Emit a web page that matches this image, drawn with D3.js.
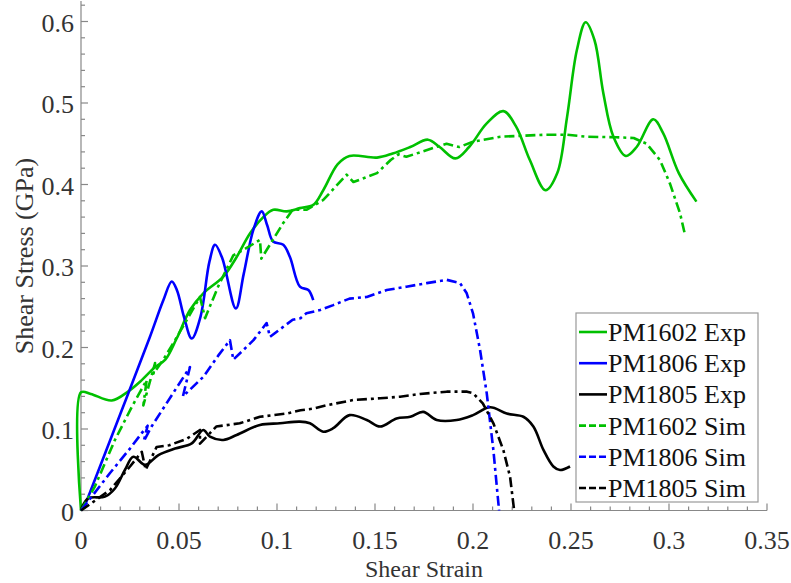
<!DOCTYPE html>
<html><head><meta charset="utf-8">
<script src="https://cdn.jsdelivr.net/npm/d3@7"></script>
<style>
body{margin:0;background:#fff}
svg text{font-family:"Liberation Serif" !important;}
</style>
</head><body>
<svg id="c" width="791" height="583" style="font-family:'Liberation Serif'"></svg>
<script>
const xTicks = [0,0.05,0.1,0.15,0.2,0.25,0.3,0.35];
const yTicks = [0,0.1,0.2,0.3,0.4,0.5,0.6];
const seriesNames = ["PM1602 Exp","PM1806 Exp","PM1805 Exp","PM1602 Sim","PM1806 Sim","PM1805 Sim"];

const pm1602Exp = [[0,0],[0,0.145],[0.005,0.143],[0.0157,0.135],[0.024,0.146],[0.031,0.160],[0.0378,0.176],[0.043,0.185],[0.0488,0.211],[0.0556,0.246],[0.0624,0.2665],[0.0726,0.287],[0.0794,0.311],[0.0862,0.340],[0.093,0.360],[0.0981,0.369],[0.105,0.367],[0.1117,0.371],[0.1185,0.375],[0.1236,0.393],[0.131,0.425],[0.137,0.435],[0.151,0.433],[0.159,0.438],[0.168,0.446],[0.177,0.455],[0.183,0.446],[0.191,0.432],[0.198,0.446],[0.207,0.475],[0.2155,0.490],[0.222,0.471],[0.229,0.430],[0.237,0.393],[0.243,0.414],[0.248,0.483],[0.253,0.565],[0.2575,0.599],[0.262,0.577],[0.2665,0.512],[0.2716,0.459],[0.278,0.435],[0.2835,0.446],[0.292,0.480],[0.297,0.463],[0.305,0.414],[0.314,0.379]];
const pm1806Exp = [[0.0015,0.003],[0.02,0.118],[0.035,0.212],[0.042,0.258],[0.0463,0.281],[0.049,0.27],[0.0525,0.238],[0.0565,0.211],[0.061,0.238],[0.0655,0.305],[0.0684,0.326],[0.072,0.31],[0.079,0.248],[0.083,0.29],[0.088,0.345],[0.0922,0.367],[0.095,0.35],[0.098,0.330],[0.1032,0.326],[0.1066,0.311],[0.1117,0.2746],[0.116,0.2705],[0.1185,0.258]];
const pm1805Exp = [[0,0],[0.0007,0.005],[0.0037,0.015],[0.0122,0.017],[0.0173,0.027],[0.0224,0.0497],[0.0267,0.066],[0.0327,0.056],[0.0395,0.068],[0.048,0.076],[0.0565,0.0824],[0.0624,0.0988],[0.0658,0.0905],[0.0726,0.0865],[0.0794,0.0926],[0.0913,0.105],[0.1015,0.107],[0.1117,0.109],[0.1168,0.107],[0.1236,0.0967],[0.1287,0.101],[0.137,0.117],[0.1458,0.111],[0.1526,0.103],[0.161,0.113],[0.168,0.115],[0.1746,0.121],[0.1815,0.111],[0.1917,0.111],[0.2,0.117],[0.2087,0.1266],[0.2172,0.119],[0.2257,0.115],[0.2308,0.103],[0.236,0.074],[0.241,0.054],[0.2444,0.0497],[0.2495,0.054]];
const pm1602Sim = [[0,0],[0.007,0.029],[0.0173,0.0865],[0.0259,0.127],[0.0335,0.160],[0.0318,0.129],[0.0378,0.181],[0.037,0.168],[0.042,0.185],[0.048,0.209],[0.0607,0.262],[0.0633,0.236],[0.07,0.275],[0.0777,0.313],[0.083,0.320],[0.0913,0.332],[0.092,0.309],[0.103,0.352],[0.108,0.369],[0.115,0.369],[0.1236,0.381],[0.1355,0.412],[0.139,0.403],[0.151,0.414],[0.158,0.430],[0.162,0.437],[0.166,0.434],[0.18,0.445],[0.1865,0.450],[0.193,0.446],[0.2,0.4525],[0.214,0.4586],[0.236,0.461],[0.248,0.461],[0.258,0.4586],[0.273,0.458],[0.282,0.457],[0.2886,0.450],[0.2954,0.430],[0.3005,0.401],[0.3056,0.365],[0.308,0.340]];
const pm1806Sim = [[0,0],[0.0148,0.046],[0.025,0.076],[0.031,0.095],[0.034,0.104],[0.032,0.085],[0.036,0.103],[0.047,0.144],[0.0556,0.176],[0.052,0.140],[0.0624,0.164],[0.07,0.19],[0.076,0.209],[0.0777,0.185],[0.088,0.209],[0.0947,0.230],[0.0964,0.213],[0.108,0.234],[0.112,0.236],[0.115,0.242],[0.122,0.246],[0.1287,0.252],[0.137,0.260],[0.1458,0.262],[0.156,0.2705],[0.166,0.2746],[0.1764,0.279],[0.1866,0.283],[0.1934,0.279],[0.1968,0.2665],[0.2,0.242],[0.2036,0.197],[0.207,0.144],[0.2104,0.074],[0.2133,0]];
const pm1805Sim = [[0,0],[0.0148,0.025],[0.025,0.054],[0.031,0.072],[0.033,0.05],[0.0386,0.078],[0.045,0.08],[0.054,0.088],[0.0607,0.0988],[0.0607,0.082],[0.069,0.103],[0.081,0.107],[0.0913,0.115],[0.105,0.119],[0.112,0.123],[0.1185,0.125],[0.125,0.129],[0.139,0.1356],[0.1526,0.1377],[0.1628,0.1396],[0.173,0.143],[0.1866,0.1458],[0.197,0.1458],[0.2,0.144],[0.205,0.1315],[0.2104,0.107],[0.2155,0.074],[0.2189,0.0415],[0.221,0]];

const colors = ["#00c000","#0000ff","#000000","#00c000","#0000ff","#000000"];
const allData = [pm1602Exp,pm1806Exp,pm1805Exp,pm1602Sim,pm1806Sim,pm1805Sim];

const svg = d3.select("#c");
const x = d3.scaleLinear().domain([0,0.35]).range([81,767]);
const y = d3.scaleLinear().domain([0,0.6]).range([510.5,21.5]);
const yTop = 0.625;

// axes
const ax = svg.append("g").attr("stroke","#888").attr("stroke-width",1.2);
ax.append("line").attr("x1",x(0)).attr("x2",x(0.35)).attr("y1",y(0)).attr("y2",y(0));
ax.append("line").attr("x1",x(0)).attr("x2",x(0)).attr("y1",y(0)).attr("y2",y(yTop));
d3.range(0,0.3501,0.01).forEach(v=>{
  const major = Math.abs(v/0.05 - Math.round(v/0.05))<1e-6;
  ax.append("line").attr("x1",x(v)).attr("x2",x(v)).attr("y1",y(0)).attr("y2",y(0)-(major?7:4));
});
d3.range(0,0.6201,0.02).forEach(v=>{
  const major = Math.abs(v/0.1 - Math.round(v/0.1))<1e-6;
  ax.append("line").attr("x1",x(0)).attr("x2",x(0)+(major?7:4)).attr("y1",y(v)).attr("y2",y(v));
});
svg.append("g").selectAll("text").data(xTicks).join("text")
  .attr("x",d=>x(d)).attr("y",549).attr("text-anchor","middle")
  .attr("font-size",26).attr("fill","#333")
  .text(d=>d===0?"0":String(d));
svg.append("g").selectAll("text").data(yTicks).join("text")
  .attr("x",74).attr("y",d=>y(d)+10).attr("text-anchor","end")
  .attr("font-size",26).attr("fill","#333")
  .text(d=>String(d));
svg.append("text").attr("x",424).attr("y",577).attr("text-anchor","middle")
  .attr("font-size",24).attr("fill","#333").text("Shear Strain");
svg.append("text").attr("transform","translate(33,256) rotate(-90)").attr("text-anchor","middle")
  .attr("font-size",26).attr("fill","#333").text("Shear Stress (GPa)");

// curves
const lineSmooth = d3.line().x(d=>x(d[0])).y(d=>y(d[1])).curve(d3.curveCatmullRom.alpha(0.5));
const lineSim = d3.line().x(d=>x(d[0])).y(d=>y(d[1]));
allData.forEach((data,i)=>{
  const sim = i>=3;
  svg.append("path").datum(data)
    .attr("d", sim ? lineSim : lineSmooth)
    .attr("fill","none").attr("stroke",colors[i]).attr("stroke-width",2.6)
    .attr("stroke-linejoin","round")
    .attr("stroke-dasharray", sim ? "10,4,3,4" : null);
});

// legend
const lg = svg.append("g");
lg.append("rect").attr("x",576).attr("y",313).attr("width",182).attr("height",189)
  .attr("fill","#fff").attr("stroke","#999").attr("stroke-width",1.2);
seriesNames.forEach((name,i)=>{
  const cy = 332 + i*31.2;
  lg.append("line").attr("x1",579).attr("x2",607).attr("y1",cy).attr("y2",cy)
    .attr("stroke",colors[i]).attr("stroke-width",2.6)
    .attr("stroke-dasharray", i>=3 ? "7,3" : null);
  lg.append("text").attr("x",608).attr("y",cy+9)
    .attr("font-size",26).attr("fill","#111").text(name);
});
</script>
</body></html>
